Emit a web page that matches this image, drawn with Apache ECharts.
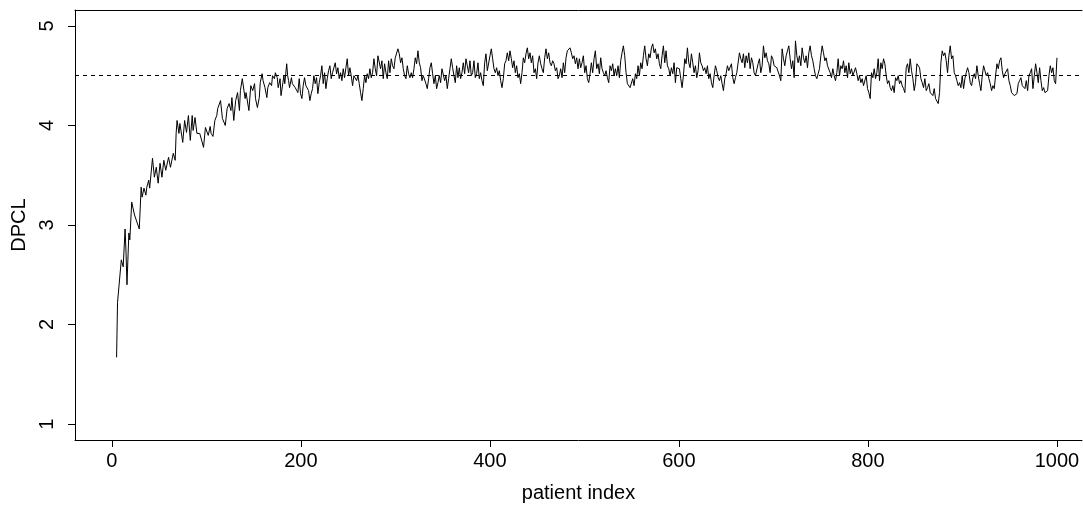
<!DOCTYPE html>
<html>
<head>
<meta charset="utf-8">
<script src="https://cdn.jsdelivr.net/npm/echarts@6/dist/echarts.min.js"></script>
<style>
html,body{margin:0;padding:0;background:#fff;}
#chart{width:1083px;height:508px;}
</style>
</head>
<body>
<div id="chart"></div>
<script>
// ---- data ----
const xTicks = [0, 200, 400, 600, 800, 1000];
const yTicks = [1, 2, 3, 4, 5];
const targetLevel = 4.5;

// early phase (patient index, DPCL)
const earlyIdx = [5,6,8,10,12,14,15,16,18,19,21,24,29,31,32,34,36,37,39,40,43,45,47,49,51,53,55,57,60,62,65,67,68,69,71,72,75,77,79,81,83,85,86,88,90,
93,97,99,102,104,105,107,109,111,112,115,117,120,122,124,126,127,129,131,133,135,136,138,141,142,145,147,149,151,152,154,156,157,159,160,162,164,165,167,169,170,172,173,175,176,178,179,181,182,183,185,186,187,188,190,191,193];
const earlyVal = [1.67,2.22,2.20,2.65,2.58,2.96,2.72,2.40,2.92,2.85,3.23,3.10,2.96,3.38,3.28,3.37,3.30,3.38,3.45,3.37,3.67,3.48,3.58,3.42,3.62,3.48,3.65,3.55,3.68,3.58,3.72,3.65,3.92,4.05,3.92,4.02,3.83,4.05,3.93,4.10,3.85,4.10,3.95,4.08,3.92,
3.92,3.78,3.98,3.90,3.99,3.92,3.89,4.05,4.10,4.17,4.25,4.07,4.00,4.17,4.22,4.15,4.28,4.05,4.25,4.33,4.15,4.35,4.47,4.27,4.33,4.15,4.40,4.35,4.42,4.27,4.18,4.28,4.43,4.52,4.45,4.38,4.28,4.38,4.43,4.40,4.50,4.47,4.53,4.48,4.38,4.47,4.30,4.43,4.50,4.42,4.62,4.50,4.45,4.38,4.48,4.42,4.43];

// later phase: evenly spaced readings from patient 194 to 1000
const lateStart = 194;
const lateEnd = 1000;
const lateVal = [
4.38,4.40,4.33,4.47,4.32,4.27,4.40,4.48,4.40,4.42,4.35,4.25,4.32,4.37,4.50,4.42,4.48,4.32,4.43,4.50,4.60,4.42,4.53,4.37,4.47,4.55,4.60,4.47,4.53,4.52,4.63,4.52,4.58,4.47,4.53,4.45,4.57,4.48,4.58,4.67,4.50,4.58,4.50,4.40,4.50,4.48,4.45,4.50,4.42,4.33,4.25,4.37,4.50,4.43,4.52,4.47,4.57,4.48,4.53,4.67,4.57,4.50,4.70,4.68,4.57,4.65,4.47,4.62,4.53,4.47,4.65,4.53,
4.67,4.60,4.57,4.68,4.67,4.77,4.72,4.63,4.68,4.57,4.50,4.47,4.60,4.52,4.48,4.53,4.48,4.57,4.68,4.62,4.75,4.63,4.58,4.45,4.50,4.52,4.42,4.37,4.47,4.58,4.63,4.52,4.42,4.50,4.37,4.43,4.50,4.43,4.57,4.58,4.45,4.50,4.37,4.47,4.57,4.67,4.58,4.50,4.43,4.60,4.48,4.58,4.47,4.53,4.63,4.52,4.67,4.60,4.53,4.65,4.50,4.53,4.65,4.48,4.52,4.63,4.47,4.53,4.45,4.40,4.63,4.72,
4.55,4.57,4.70,4.77,4.67,4.57,4.53,4.58,4.50,4.55,4.45,4.38,4.47,4.62,4.65,4.73,4.65,4.75,4.67,4.58,4.65,4.53,4.60,4.48,4.52,4.42,4.53,4.68,4.63,4.72,4.78,4.67,4.73,4.63,4.70,4.53,4.57,4.47,4.63,4.70,4.62,4.57,4.53,4.68,4.77,4.67,4.73,4.63,4.60,4.65,4.62,4.55,4.58,4.47,4.50,4.57,4.48,4.63,4.53,4.68,4.75,4.73,4.78,4.73,4.67,4.70,4.62,4.68,4.57,4.67,4.58,4.63,
4.70,4.53,4.60,4.47,4.43,4.52,4.63,4.53,4.67,4.75,4.57,4.62,4.52,4.68,4.57,4.53,4.50,4.55,4.48,4.43,4.60,4.55,4.62,4.50,4.57,4.50,4.60,4.48,4.65,4.73,4.80,4.70,4.53,4.42,4.43,4.38,4.37,4.47,4.40,4.52,4.47,4.60,4.50,4.63,4.57,4.70,4.80,4.67,4.60,4.72,4.68,4.78,4.82,4.73,4.77,4.67,4.72,4.62,4.57,4.70,4.80,4.63,4.75,4.60,4.57,4.50,4.58,4.52,4.63,4.43,4.58,4.57,
4.57,4.47,4.38,4.50,4.67,4.62,4.78,4.63,4.58,4.72,4.63,4.53,4.60,4.48,4.55,4.73,4.63,4.60,4.55,4.58,4.52,4.60,4.47,4.52,4.43,4.38,4.50,4.60,4.55,4.48,4.45,4.50,4.42,4.35,4.47,4.52,4.60,4.55,4.53,4.62,4.48,4.42,4.48,4.53,4.52,4.73,4.67,4.63,4.72,4.58,4.70,4.63,4.73,4.57,4.68,4.63,4.53,4.50,4.52,4.62,4.67,4.53,4.60,4.80,4.68,4.73,4.65,4.62,4.53,4.70,4.67,4.60,
4.62,4.58,4.57,4.50,4.45,4.77,4.67,4.60,4.70,4.75,4.80,4.67,4.57,4.65,4.48,4.85,4.70,4.63,4.70,4.60,4.78,4.68,4.63,4.70,4.58,4.73,4.80,4.70,4.65,4.57,4.50,4.47,4.52,4.57,4.70,4.80,4.73,4.65,4.68,4.60,4.58,4.53,4.48,4.57,4.50,4.45,4.53,4.67,4.50,4.60,4.57,4.65,4.53,4.60,4.48,4.63,4.52,4.57,4.50,4.48,4.58,4.52,4.45,4.50,4.43,4.47,4.40,4.42,4.50,4.37,4.33,4.27,
4.53,4.48,4.57,4.47,4.53,4.67,4.45,4.63,4.57,4.67,4.62,4.50,4.42,4.45,4.38,4.35,4.40,4.33,4.48,4.45,4.50,4.42,4.45,4.40,4.37,4.33,4.58,4.62,4.53,4.67,4.55,4.47,4.35,4.43,4.62,4.60,4.58,4.47,4.43,4.38,4.47,4.35,4.38,4.42,4.33,4.35,4.30,4.37,4.27,4.25,4.22,4.33,4.63,4.75,4.70,4.73,4.65,4.53,4.70,4.80,4.67,4.70,4.53,4.50,4.45,4.40,4.43,4.38,4.50,4.37,4.47,4.53,
4.58,4.53,4.43,4.40,4.48,4.52,4.47,4.60,4.50,4.42,4.35,4.50,4.60,4.55,4.50,4.53,4.47,4.42,4.35,4.40,4.37,4.50,4.62,4.57,4.65,4.68,4.55,4.48,4.52,4.53,4.57,4.45,4.40,4.33,4.32,4.30,4.28,4.32,4.42,4.45,4.48,4.40,4.42,4.37,4.45,4.35,4.50,4.53,4.57,4.37,4.50,4.62,4.53,4.43,4.58,4.45,4.35,4.38,4.33,4.32,4.35,4.50,4.60,4.53,4.58,4.45,4.42,4.68
];

// ---- build series ----
const seriesData = [];
for (let i = 0; i < earlyIdx.length; i++) seriesData.push([earlyIdx[i], earlyVal[i]]);
const lateStep = (lateEnd - lateStart) / (lateVal.length - 1);
for (let k = 0; k < lateVal.length; k++) seriesData.push([lateStart + k * lateStep, lateVal[k]]);

const FONT = "'Liberation Sans', Arial, sans-serif";
const chart = echarts.init(document.getElementById('chart'), null, {renderer: 'canvas'});
chart.setOption({
  animation: false,
  backgroundColor: '#fff',
  grid: {left: 75, top: 10, right: 1, height: 432, show: false},
  xAxis: [{
    type: 'value', min: -39, max: 1026.5, position: 'bottom',
    name: 'patient index', nameLocation: 'middle', nameGap: 43,
    nameTextStyle: {fontFamily: FONT, fontSize: 20, color: '#000'},
    axisLine: {show: true, onZero: false, lineStyle: {color: '#000', width: 1}},
    splitLine: {show: false},
    axisTick: {show: true, inside: false, length: 7, customValues: xTicks, lineStyle: {color: '#000', width: 1}},
    axisLabel: {show: true, margin: 11, customValues: xTicks, formatter: v => String(v), fontFamily: FONT, fontSize: 20, color: '#000'}
  }, {
    type: 'value', min: -39, max: 1026.5, position: 'top',
    axisLine: {show: true, onZero: false, lineStyle: {color: '#000', width: 1}},
    axisTick: {show: false}, axisLabel: {show: false}, splitLine: {show: false}
  }],
  yAxis: {
    type: 'value', min: 0.84, max: 5.16,
    name: 'DPCL', nameLocation: 'middle', nameGap: 44, nameRotate: 90,
    nameTextStyle: {fontFamily: FONT, fontSize: 20, color: '#000'},
    axisLine: {show: true, onZero: false, lineStyle: {color: '#000', width: 1}},
    splitLine: {show: false},
    axisTick: {show: true, inside: false, length: 7, customValues: yTicks, lineStyle: {color: '#000', width: 1}},
    axisLabel: {show: true, rotate: 90, margin: 18, customValues: yTicks, fontFamily: FONT, fontSize: 20, color: '#000'}
  },
  series: [{
    type: 'line',
    xAxisIndex: 0,
    data: seriesData,
    showSymbol: false,
    symbol: 'none',
    lineStyle: {color: '#000', width: 1},
    silent: true,
    markLine: {
      silent: true,
      symbol: ['none', 'none'],
      label: {show: false},
      lineStyle: {color: '#000', width: 1, type: [4, 4]},
      data: [{yAxis: targetLevel}]
    }
  }]
});
</script>
</body>
</html>
